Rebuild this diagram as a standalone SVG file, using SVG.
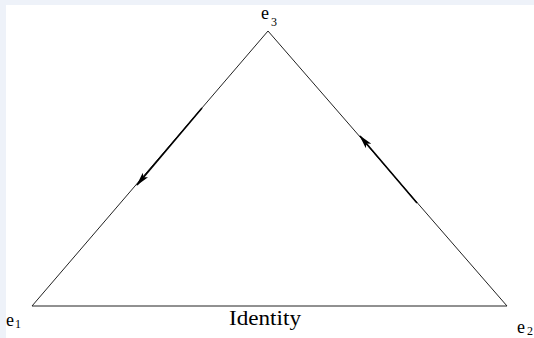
<svg xmlns="http://www.w3.org/2000/svg" width="534" height="338" viewBox="0 0 534 338">
<style>
.lbl{font-family:"Liberation Serif","Times New Roman",serif;fill:#000}
.edge{fill:none;stroke:#222;stroke-width:1}
.flow{fill:none;stroke:#000;stroke-width:1.6}
</style>
<defs>
<marker id="ah" markerWidth="14" markerHeight="8" refX="13" refY="4" orient="auto" markerUnits="userSpaceOnUse">
<path d="M0,0.5 L14,4 L0,7.5 L3,4 Z" fill="#000"/>
</marker>
</defs>
<rect x="0" y="0" width="534" height="338" fill="#eef2f9"/>
<rect x="6" y="5" width="528" height="333" fill="#fff"/>
<g id="connectors">
<path class="edge" d="M268,31 L32,306 L507,306 Z"/>
<path class="flow" d="M202,108 L137,185" marker-end="url(#ah)"/>
<path class="flow" d="M417,203 L360,136" marker-end="url(#ah)"/>
</g>
<g id="e3"><text class="lbl" x="261" y="19" font-size="18">e</text><text class="lbl" x="271" y="26" font-size="12">3</text></g>
<g id="e1"><text class="lbl" x="6" y="326" font-size="18">e</text><text class="lbl" x="15" y="328" font-size="12">1</text></g>
<g id="e2"><text class="lbl" x="517" y="333" font-size="18">e</text><text class="lbl" x="527" y="335" font-size="12">2</text></g>
<g id="identity"><text class="lbl" x="229" y="325" font-size="20" textLength="72" lengthAdjust="spacingAndGlyphs">Identity</text></g>
</svg>
